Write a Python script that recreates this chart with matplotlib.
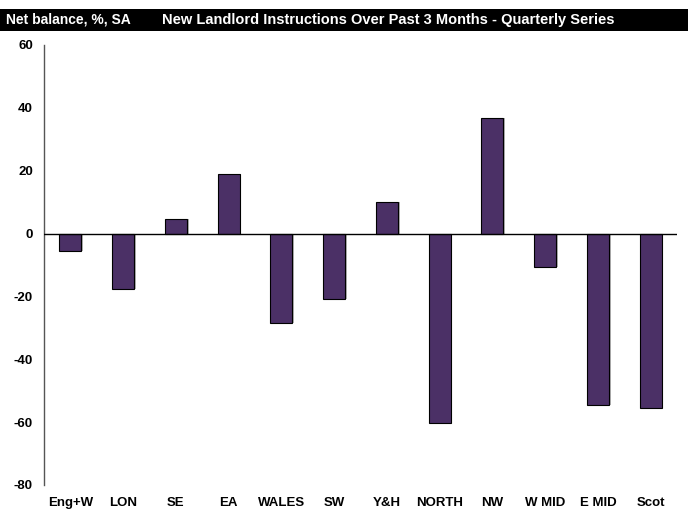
import matplotlib
matplotlib.use("Agg")
import matplotlib.pyplot as plt
from matplotlib.patches import Rectangle

categories = ["Eng+W", "LON", "SE", "EA", "WALES", "SW", "Y&H", "NORTH", "NW", "W MID", "E MID", "Scot"]
values = [-5.5, -17.6, 4.7, 18.8, -28.6, -20.7, 10.1, -60.2, 36.7, -10.7, -54.6, -55.4]
yticks = [-80, -60, -40, -20, 0, 20, 40, 60]

plt.rcParams['font.family'] = ['Liberation Sans', 'DejaVu Sans']

fig = plt.figure(figsize=(6.88, 5.11), dpi=100)
ax = fig.add_axes([0.064, 0.051, 0.920, 0.861])

x = list(range(len(categories)))
# shadow
ax.bar([i + 0.03 for i in x], values, width=0.42, color='#b0b0b0', zorder=1)
ax.bar(x, values, width=0.42, color='#4b3066', edgecolor='black', linewidth=0.8, zorder=2)
ax.axhline(0, color='black', linewidth=1.0, zorder=3)

ax.set_xlim(-0.5, len(categories) - 0.5)
ax.set_ylim(-80, 60)
ax.set_yticks(yticks)
ax.set_yticklabels([str(t) for t in yticks], fontsize=9.5, fontweight='bold')
ax.set_xticks(x)
ax.set_xticklabels(categories, fontsize=9.5, fontweight='bold')
ax.tick_params(axis='both', length=0)
ax.tick_params(axis='y', pad=8)
ax.tick_params(axis='x', pad=9)
for s in ['top', 'right', 'bottom']:
    ax.spines[s].set_visible(False)
ax.spines['left'].set_color('#555555')
ax.spines['left'].set_linewidth(1.0)

# header bar
fig.patches.append(Rectangle((0, 1 - 31/511), 1, 22/511, transform=fig.transFigure,
                             facecolor='black', edgecolor='none', zorder=0))
fig.text(6/688, 1 - 20/511, "Net balance, %, SA", color='white', fontsize=10,
         fontweight='bold', va='center', ha='left')
fig.text(162/688, 1 - 20/511, "New Landlord Instructions Over Past 3 Months - Quarterly Series",
         color='white', fontsize=10.5, fontweight='bold', va='center', ha='left')

fig.savefig("out.png", dpi=100)
